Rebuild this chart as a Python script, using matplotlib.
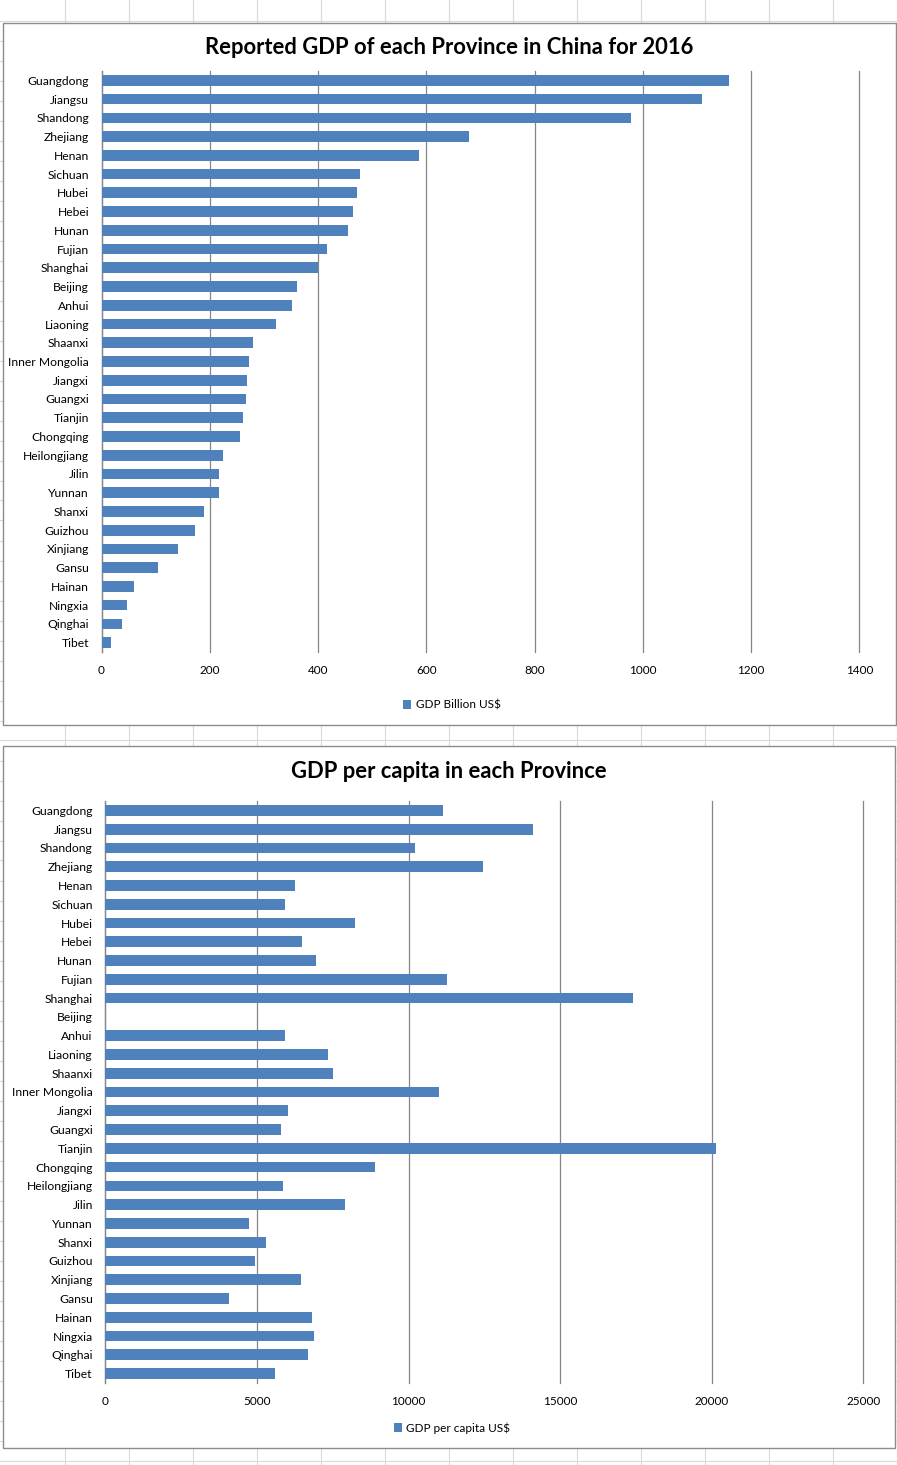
import numpy as np
import matplotlib
matplotlib.use("Agg")
import matplotlib.pyplot as plt
from matplotlib.lines import Line2D
from matplotlib.patches import Rectangle

plt.rcParams['font.family'] = ['Lato', 'DejaVu Sans']

provinces = ["Guangdong", "Jiangsu", "Shandong", "Zhejiang", "Henan", "Sichuan",
             "Hubei", "Hebei", "Hunan", "Fujian", "Shanghai", "Beijing", "Anhui",
             "Liaoning", "Shaanxi", "Inner Mongolia", "Jiangxi", "Guangxi",
             "Tianjin", "Chongqing", "Heilongjiang", "Jilin", "Yunnan", "Shanxi",
             "Guizhou", "Xinjiang", "Gansu", "Hainan", "Ningxia", "Qinghai", "Tibet"]

gdp_billion = [1159, 1110, 978, 679, 586, 477, 472, 464, 455, 416, 400, 362, 352,
               322, 280, 272, 269, 267, 261, 256, 224, 217, 217, 189, 173, 141,
               104, 60, 47, 38, 17.5]

# Beijing has no per-capita value in the source sheet
gdp_per_capita = [11145, 14116, 10220, 12462, 6261, 5931, 8241, 6492, 6954, 11277,
                  17419, None, 5931, 7350, 7515, 11013, 6030, 5799, 20155, 8901,
                  5865, 7911, 4743, 5304, 4941, 6459, 4083, 6822, 6888, 6690, 5601]

gdp_ticks = [0, 200, 400, 600, 800, 1000, 1200, 1400]
pc_ticks = [0, 5000, 10000, 15000, 20000, 25000]

W, H = 897, 1465
BLUE = "#4F81BD"
GRID = "#868686"

fig = plt.figure(figsize=(W / 100, H / 100), dpi=100)
fig.patch.set_facecolor("white")


def fx(x):
    return x / W


def fy(y):
    return 1 - y / H


# spreadsheet cell lines behind the charts
for x in range(64, W, 64):
    fig.add_artist(Line2D([fx(x + 0.5), fx(x + 0.5)], [0, 1], color="#D9D9D9",
                          lw=0.8, zorder=-3))
for y in np.arange(20.5, H, 20):
    fig.add_artist(Line2D([0, 1], [fy(y), fy(y)], color="#D9D9D9", lw=0.8, zorder=-3))

# chart areas
fig.add_artist(Rectangle((fx(2.5), fy(725)), fx(896) - fx(2.5), fy(23) - fy(725),
                         transform=fig.transFigure, facecolor="white",
                         edgecolor="#8C8C8C", lw=1, zorder=-2))
fig.add_artist(Rectangle((fx(2.5), fy(1448)), fx(895) - fx(2.5), fy(745.5) - fy(1448),
                         transform=fig.transFigure, facecolor="white",
                         edgecolor="#8C8C8C", lw=1, zorder=-2))


def make_axes(left, top, right, bottom):
    return fig.add_axes([fx(left), fy(bottom), fx(right) - fx(left), fy(top) - fy(bottom)])


def style(ax, ticks, label):
    y = np.arange(len(provinces))
    vals = np.array(label[1], dtype=float)
    ax.barh(y, vals, height=0.57, color=BLUE, label=label[0], zorder=3)
    ax.set_ylim(len(provinces) - 0.5, -0.5)
    ax.set_yticks(y)
    ax.set_yticklabels(provinces, fontsize=8.7)
    ax.set_xlim(ticks[0], ticks[-1])
    ax.set_xticks(ticks)
    ax.set_xticklabels([str(t) for t in ticks], fontsize=8.5)
    ax.xaxis.grid(True, color=GRID, lw=0.9)
    for gl in ax.get_xgridlines():
        gl.set_clip_on(False)
    ax.set_axisbelow(True)
    for s in ["top", "right", "bottom"]:
        ax.spines[s].set_visible(False)
    ax.spines["left"].set_color(GRID)
    ax.spines["left"].set_linewidth(0.9)
    ax.tick_params(axis="x", length=0, pad=9.5)
    ax.tick_params(axis="y", length=0, pad=9)
    ax.set_facecolor("none")


ax1 = make_axes(101.5, 71, 859.3, 652)
style(ax1, gdp_ticks, ("GDP Billion US$", gdp_billion))
fig.text(fx(449), fy(48), "Reported GDP of each Province in China for 2016",
         ha="center", va="center", fontsize=15.8, fontweight="bold")
fig.legend(*ax1.get_legend_handles_labels(), loc="center",
           bbox_to_anchor=(fx(452), fy(705)), frameon=False, fontsize=8.5,
           handlelength=0.7, handleheight=0.7, handletextpad=0.4)

ax2 = make_axes(105.3, 801, 863.3, 1383)
style(ax2, pc_ticks, ("GDP per capita US$", gdp_per_capita))
fig.text(fx(449), fy(772), "GDP per capita in each Province",
         ha="center", va="center", fontsize=15.8, fontweight="bold")
fig.legend(*ax2.get_legend_handles_labels(), loc="center",
           bbox_to_anchor=(fx(452), fy(1428)), frameon=False, fontsize=8.5,
           handlelength=0.7, handleheight=0.7, handletextpad=0.4)

fig.savefig("out.png", dpi=100)
